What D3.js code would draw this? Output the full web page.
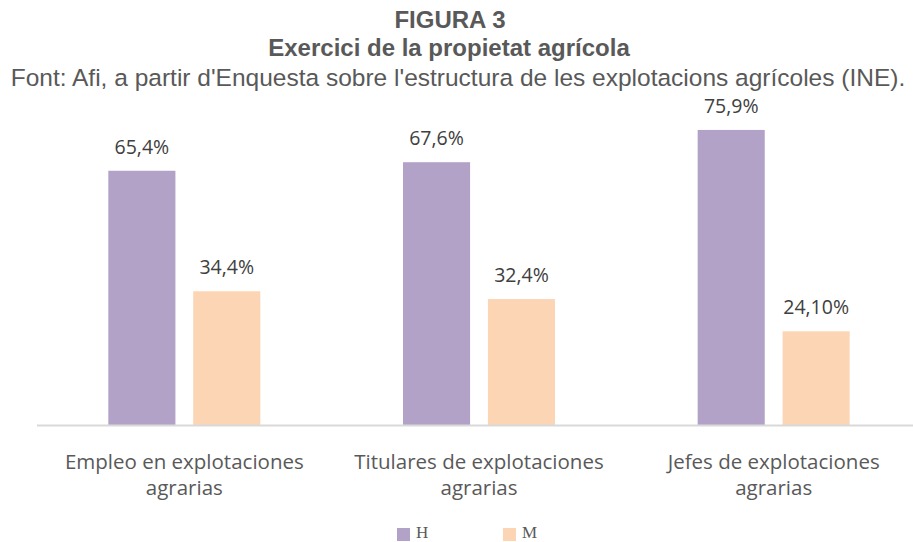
<!DOCTYPE html>
<html>
<head>
<meta charset="utf-8">
<script src="https://cdn.jsdelivr.net/npm/d3@7"></script>
<style>
	body { margin: 0; background: #fff; }
	svg { display: block; }
</style>
</head>
<body>
<svg id="chart"></svg>
<script>
// Chart data
const categories = [
	[ 'Empleo en explotaciones', 'agrarias' ],
	[ 'Titulares de explotaciones', 'agrarias' ],
	[ 'Jefes de explotaciones', 'agrarias' ],
];
const seriesNames = [ 'H', 'M' ];
const valuesH = [ 65.4, 67.6, 75.9 ];
const valuesM = [ 34.4, 32.4, 24.1 ];
const labelsH = [ '65,4%', '67,6%', '75,9%' ];
const labelsM = [ '34,4%', '32,4%', '24,10%' ];
const colors = [ '#b3a2c7', '#fcd5b5' ];

const width = 913;
const height = 542;
const margin = { top: 114, right: -8, bottom: 117, left: 37 };

const svg = d3.select( '#chart' )
	.attr( 'width', width )
	.attr( 'height', height );

// titles
const titles = svg.append( 'g' )
	.attr( 'font-family', 'Liberation Sans, Arial, sans-serif' )
	.attr( 'fill', '#595959' )
	.attr( 'text-anchor', 'middle' );
titles.append( 'text' )
	.attr( 'x', 450 ).attr( 'y', 28 )
	.attr( 'font-size', 24 ).attr( 'font-weight', 'bold' )
	.text( 'FIGURA 3' );
titles.append( 'text' )
	.attr( 'x', 449 ).attr( 'y', 56 )
	.attr( 'font-size', 24 ).attr( 'font-weight', 'bold' )
	.text( 'Exercici de la propietat agrícola' );
titles.append( 'text' )
	.attr( 'x', 458 ).attr( 'y', 86 )
	.attr( 'font-size', 24.5 )
	.text( 'Font: Afi, a partir d\'Enquesta sobre l\'estructura de les explotacions agrícoles (INE).' );

const x0 = d3.scaleBand()
	.domain( d3.range( categories.length ) )
	.range( [ margin.left, width - margin.right ] )
	.paddingInner( 0 )
	.paddingOuter( 0 );

const x1 = d3.scaleBand()
	.domain( seriesNames )
	.range( [ 0, x0.bandwidth() ] )
	.paddingInner( 0.21 )
	.paddingOuter( 0.84 );

const y = d3.scaleLinear()
	.domain( [ 0, 80 ] )
	.range( [ height - margin.bottom, margin.top ] );

const rows = categories.map( ( c, i ) => ( {
	i,
	bars: [
		{ key: 'H', value: valuesH[ i ], label: labelsH[ i ] },
		{ key: 'M', value: valuesM[ i ], label: labelsM[ i ] },
	],
} ) );

const groups = svg.append( 'g' )
	.selectAll( 'g' )
	.data( rows )
	.enter()
	.append( 'g' )
	.attr( 'transform', ( d ) => `translate(${ x0( d.i ) },0)` );

groups.selectAll( 'rect' )
	.data( ( d ) => d.bars )
	.enter()
	.append( 'rect' )
	.attr( 'x', ( d ) => x1( d.key ) )
	.attr( 'y', ( d ) => y( d.value ) )
	.attr( 'width', x1.bandwidth() )
	.attr( 'height', ( d ) => y( 0 ) - y( d.value ) )
	.attr( 'fill', ( d, j ) => colors[ j ] );

groups.selectAll( 'text.value' )
	.data( ( d ) => d.bars )
	.enter()
	.append( 'text' )
	.attr( 'class', 'value' )
	.attr( 'x', ( d ) => x1( d.key ) + x1.bandwidth() / 2 )
	.attr( 'y', ( d ) => y( d.value ) - 17 )
	.attr( 'text-anchor', 'middle' )
	.attr( 'font-family', 'Open Sans, sans-serif' )
	.attr( 'font-size', 19.5 )
	.attr( 'fill', '#404040' )
	.text( ( d ) => d.label );

// x axis
const xAxis = svg.append( 'g' )
	.attr( 'transform', `translate(0,${ y( 0 ) })` )
	.call( d3.axisBottom( x0 ).tickSize( 0 ).tickFormat( () => '' ) );
xAxis.select( '.domain' )
	.attr( 'd', `M${ margin.left },0.5H${ width }` )
	.attr( 'stroke', '#d9d9d9' )
	.attr( 'stroke-width', 2 );

const catLabels = svg.append( 'g' )
	.attr( 'font-family', 'Open Sans, sans-serif' )
	.attr( 'font-size', 20.5 )
	.attr( 'fill', '#595959' )
	.attr( 'text-anchor', 'middle' );
categories.forEach( ( lines, i ) => {
	const t = catLabels.append( 'text' )
		.attr( 'x', x0( i ) + x0.bandwidth() / 2 )
		.attr( 'y', y( 0 ) + 44 );
	lines.forEach( ( line, k ) => {
		t.append( 'tspan' )
			.attr( 'x', x0( i ) + x0.bandwidth() / 2 )
			.attr( 'dy', k === 0 ? 0 : 26 )
			.text( line );
	} );
} );

// legend
const legend = svg.append( 'g' )
	.attr( 'transform', 'translate(397,527)' );
const item = legend.selectAll( 'g' )
	.data( seriesNames )
	.enter()
	.append( 'g' )
	.attr( 'transform', ( d, i ) => `translate(${ i * 106 },0)` );
item.append( 'rect' )
	.attr( 'y', 1 )
	.attr( 'width', 13 )
	.attr( 'height', 13 )
	.attr( 'fill', ( d, i ) => colors[ i ] );
item.append( 'text' )
	.attr( 'x', 19 )
	.attr( 'y', 11 )
	.attr( 'font-family', 'Liberation Serif, serif' )
	.attr( 'font-size', 17 )
	.attr( 'fill', '#595959' )
	.text( ( d ) => d );
</script>
</body>
</html>
